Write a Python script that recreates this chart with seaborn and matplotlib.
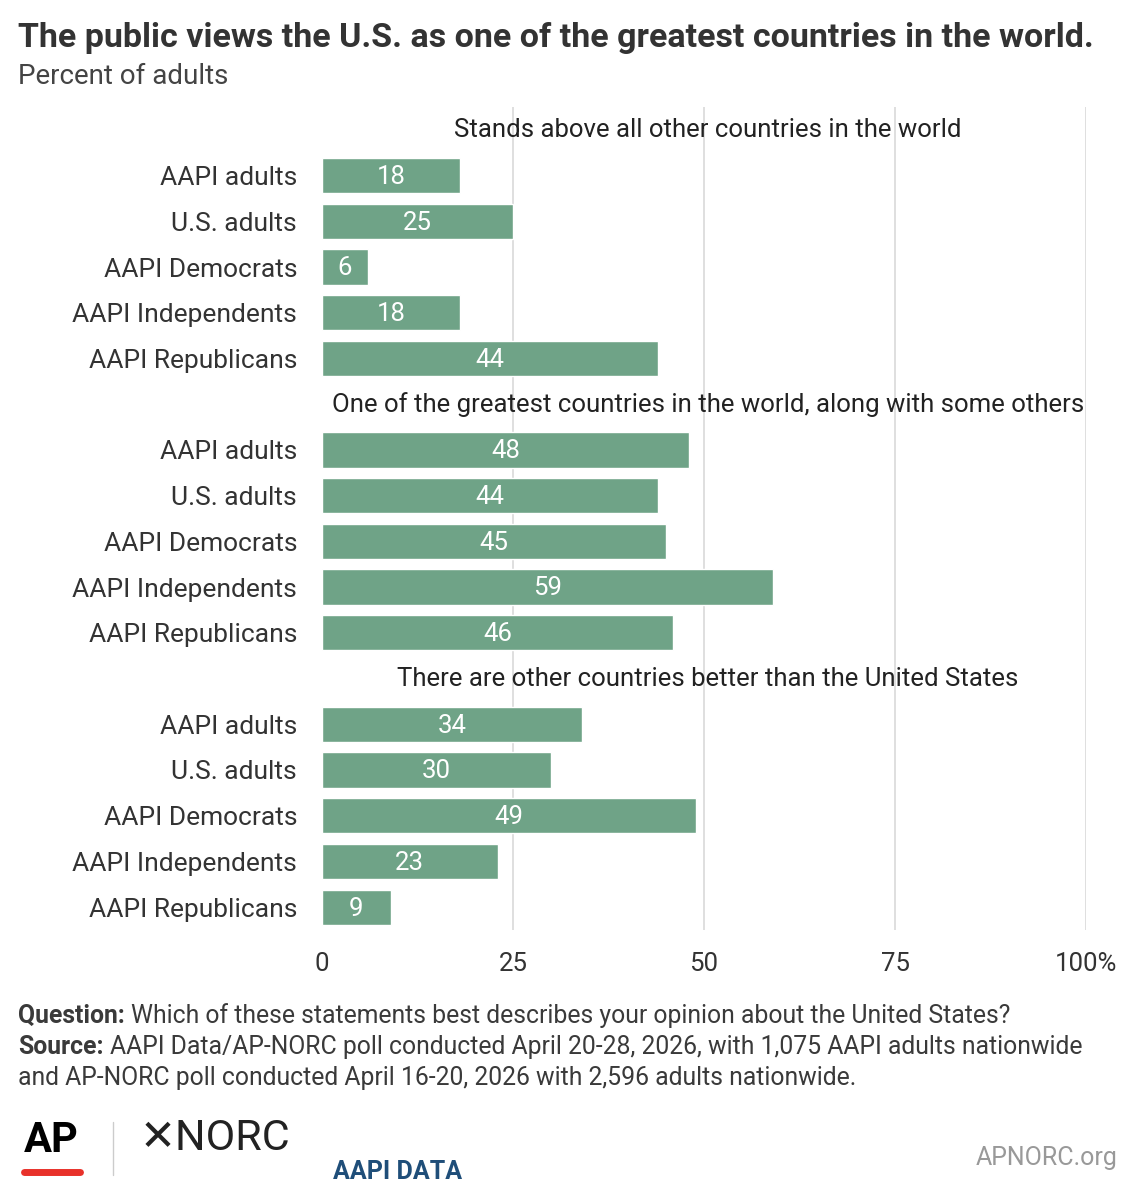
import matplotlib
matplotlib.use("Agg")
import matplotlib.pyplot as plt
import seaborn as sns
import pandas as pd

groups = ["Stands above all other countries in the world",
          "One of the greatest countries in the world, along with some others",
          "There are other countries better than the United States"]
segments = ["AAPI adults", "U.S. adults", "AAPI Democrats", "AAPI Independents", "AAPI Republicans"]
values = [[18, 25, 6, 18, 44],
          [48, 44, 45, 59, 46],
          [34, 30, 49, 23, 9]]
x_ticks = [0, 25, 50, 75, 100]
x_tick_labels = ["0", "25", "50", "75", "100%"]

BAR = "#6fa387"
sns.set_theme(style="white")
plt.rcParams["font.family"] = ["Roboto", "DejaVu Sans"]

# build rows: header row then segment rows for each group
rows = []
for gi, g in enumerate(groups):
    rows.append({"key": f"h{gi}", "label": "", "value": 0, "header": g})
    for s, v in zip(segments, values[gi]):
        rows.append({"key": f"{gi}_{s}", "label": s, "value": v, "header": None})
df = pd.DataFrame(rows)

fig = plt.figure(figsize=(11.38, 12), dpi=100)
ax = fig.add_axes([322/1138, 1-930/1200, (1086-322)/1138, (930-107)/1200])
sns.barplot(data=df, y="key", x="value", orient="h", color=BAR, width=0.77,
            saturation=1, ax=ax, order=list(df["key"]))
ax.set_xlim(0, 100)
ax.set_ylim(len(df)-0.5, -0.5)
ax.set_xticks(x_ticks)
ax.set_xticklabels(x_tick_labels, fontsize=18.5, color="#333333")
ax.set_yticks(range(len(df)))
ax.set_yticklabels(df["label"], fontsize=19, color="#333333")
ax.tick_params(axis="y", length=0, pad=18)
ax.tick_params(axis="x", length=0, pad=16)
ax.set_xlabel("")
ax.set_ylabel("")
for sp in ax.spines.values():
    sp.set_visible(False)
for t in x_ticks[1:]:
    ax.axvline(t, color="#d9d9d9", lw=1.2, zorder=0)
ax.set_axisbelow(True)

for i, r in df.iterrows():
    if r["header"]:
        ax.text(50.5, i, r["header"], ha="center", va="center", fontsize=18.5, color="#222222")
    else:
        ax.text(r["value"]/2, i + 0.03, str(r["value"]), ha="center", va="center",
                fontsize=18.5, color="white")

fig.text(18/1138, 1-38/1200, "The public views the U.S. as one of the greatest countries in the world.",
         fontsize=24.5, fontweight="bold", color="#333333", va="center")
fig.text(18/1138, 1-77/1200, "Percent of adults", fontsize=20, color="#444444", va="center")

renderer = fig.canvas.get_renderer()
def note(y, bold, rest):
    x = 18/1138
    if bold:
        t = fig.text(x, 1-y/1200, bold, fontsize=17.8, fontweight="bold", color="#3a3a3a", va="center")
        bb = t.get_window_extent(renderer)
        x = (bb.x1 + 6) / fig.bbox.width
    fig.text(x, 1-y/1200, rest, fontsize=17.8, color="#3a3a3a", va="center")

note(1016, "Question:", "Which of these statements best describes your opinion about the United States?")
note(1047, "Source:", "AAPI Data/AP-NORC poll conducted April 20-28, 2026, with 1,075 AAPI adults nationwide")
note(1078, None, "and AP-NORC poll conducted April 16-20, 2026 with 2,596 adults nationwide.")

# logos as text
fig.text(24/1138, 1-1140/1200, "AP", fontsize=30, fontweight="bold", color="black", va="center")
fig.add_artist(plt.Line2D([24/1138, 80/1138], [1-1172/1200]*2, color="#e8312a", lw=5))
fig.add_artist(plt.Line2D([113/1138]*2, [1-1175/1200, 1-1122/1200], color="#cccccc", lw=1))
fig.text(140/1138, 1-1138/1200, "\u2715NORC", fontsize=31, color="#222222", va="center")
fig.text(333/1138, 1-1172/1200, "AAPI DATA", fontsize=18, fontweight="bold", color="#1f4e79", va="center")
fig.text(1118/1138, 1-1158/1200, "APNORC.org", fontsize=18, color="#999999", ha="right", va="center")

fig.savefig("out.png", dpi=100, facecolor="white")
